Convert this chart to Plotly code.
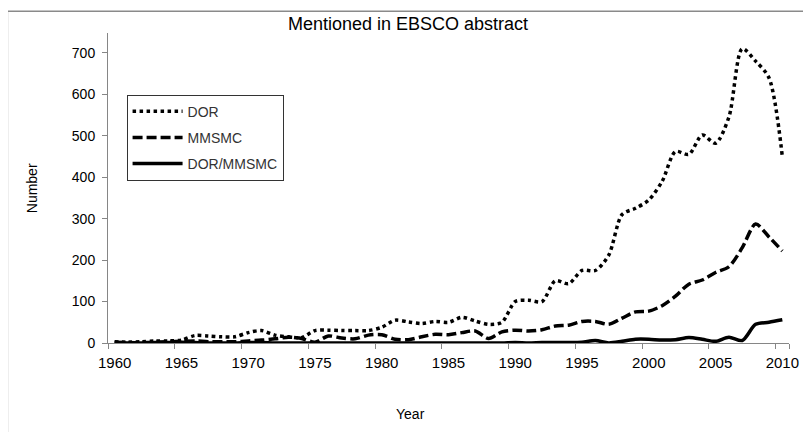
import plotly.graph_objects as go

years = [1960, 1961, 1962, 1963, 1964, 1965, 1966, 1967, 1968, 1969,
         1970, 1971, 1972, 1973, 1974, 1975, 1976, 1977, 1978, 1979,
         1980, 1981, 1982, 1983, 1984, 1985, 1986, 1987, 1988, 1989,
         1990, 1991, 1992, 1993, 1994, 1995, 1996, 1997, 1998, 1999,
         2000, 2001, 2002, 2003, 2004, 2005, 2006, 2007, 2008, 2009, 2010]

dor = [3, 2, 3, 5, 5, 7, 18, 17, 15, 15,
       25, 30, 19, 15, 13, 30, 31, 30, 30, 30,
       38, 55, 51, 47, 52, 50, 62, 53, 45, 50,
       100, 103, 100, 150, 143, 175, 175, 212, 310, 325,
       345, 390, 462, 455, 502, 482, 545, 710, 680, 640, 450]

mmsmc = [2, 1, 1, 2, 3, 4, 5, 3, 3, 3,
         5, 7, 10, 14, 11, 2, 17, 12, 10, 19,
         20, 9, 8, 15, 21, 20, 25, 29, 11, 27,
         31, 29, 32, 41, 43, 52, 52, 45, 60, 75,
         77, 90, 113, 142, 152, 170, 184, 230, 287, 256, 222]

dor_mmsmc = [1, 0, 0, 1, 1, 2, 1, 0, 0, 0,
             1, 1, 0, 0, 0, 0, 0, 0, 0, 0,
             0, 0, 0, 0, 0, 0, 0, 0, 0, 0,
             1, 0, 1, 1, 1, 2, 6, 0, 4, 9,
             9, 7, 8, 13, 9, 4, 14, 6, 45, 50, 56]

x_tick_years = [1960, 1965, 1970, 1975, 1980, 1985, 1990, 1995, 2000, 2005, 2010]
y_ticks = [0, 100, 200, 300, 400, 500, 600, 700]

FONT = "Liberation Sans, Arial, sans-serif"
AXIS_COLOR = "#868686"

# page is offset by the 8px body margin, so the figure is 8px smaller
PLOT_L, PLOT_T, PLOT_W, PLOT_H = 108.3, 33.3, 685.7, 310.4


def px(xp):
    return (xp - PLOT_L) / PLOT_W


def py(yp):
    return (PLOT_T + PLOT_H - yp) / PLOT_H


fig = go.Figure()
series = [("DOR", dor, "3.5px,3.5px"),
          ("MMSMC", mmsmc, "10px,4px"),
          ("DOR/MMSMC", dor_mmsmc, "solid")]
for name, vals, dash in series:
    fig.add_trace(go.Scatter(
        x=years, y=vals, name=name, mode="lines", legendgroup=name,
        line=dict(color="black", width=3.5, dash=dash, shape="spline", smoothing=0.8),
    ))

fig.update_layout(
    width=803, height=424,
    margin=dict(l=100, r=17, t=25, b=89),
    paper_bgcolor="white", plot_bgcolor="white",
    font=dict(family=FONT, size=14, color="black"),
    showlegend=True,
    legend=dict(x=px(127), y=py(95), xanchor="left", yanchor="top",
                bordercolor="#333333", borderwidth=1, bgcolor="white",
                font=dict(size=14, color="#333333"), tracegroupgap=5,
                traceorder="grouped", itemwidth=50),
    xaxis=dict(range=[1959.5, 2010.5], showgrid=False, zeroline=False,
               showline=True, linecolor=AXIS_COLOR, linewidth=1,
               tickmode="array", tickvals=x_tick_years,
               ticktext=[str(v) for v in x_tick_years], ticks="",
               ticklabelstandoff=6,
               minor=dict(tickmode="array",
                          tickvals=[v - 0.5 for v in x_tick_years] + [2010.5],
                          ticks="outside", ticklen=5, tickcolor=AXIS_COLOR),
               tickfont=dict(size=15)),
    yaxis=dict(range=[0, 748], showgrid=False, zeroline=False,
               showline=True, linecolor=AXIS_COLOR, linewidth=1,
               tickmode="array", tickvals=y_ticks, ticks="outside",
               ticklen=5, tickcolor=AXIS_COLOR, ticklabelstandoff=4,
               tickfont=dict(size=14)),
    annotations=[
        dict(text="Mentioned in EBSCO abstract", xref="paper", yref="paper",
             x=px(410), y=py(24), showarrow=False,
             font=dict(size=18), xanchor="center", yanchor="middle"),
        dict(text="Number", xref="paper", yref="paper",
             x=px(32), y=0.5, textangle=-90, showarrow=False,
             font=dict(size=14), xanchor="center", yanchor="middle"),
        dict(text="Year", xref="paper", yref="paper",
             x=px(413), y=py(415), showarrow=False,
             font=dict(size=14), xanchor="center", yanchor="middle"),
    ],
    shapes=[dict(type="rect", xref="paper", yref="paper",
                 x0=px(7), x1=px(830), y0=py(450), y1=py(11.5),
                 line=dict(color="#8a8a8a", width=1.5), layer="below")],
)

fig.write_html("out.html")
